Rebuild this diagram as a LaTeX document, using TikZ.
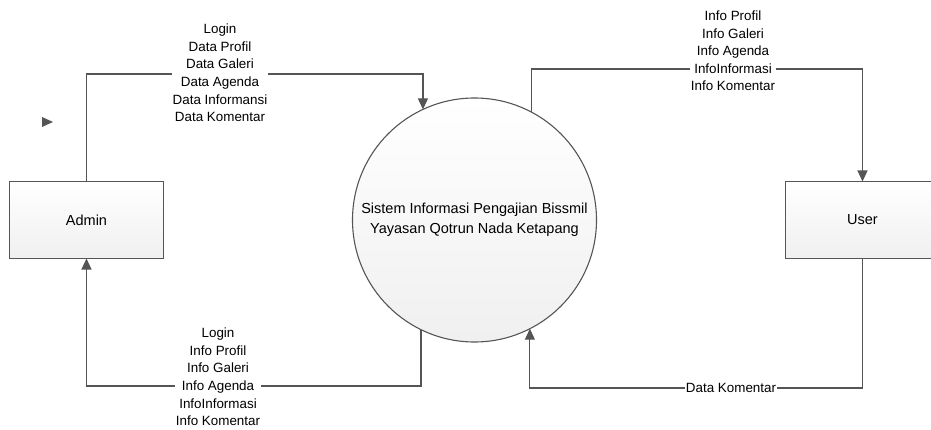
\documentclass[tikz,border=0pt]{standalone}
\usepackage{fontspec}
\setmainfont{Liberation Sans}
\usetikzlibrary{positioning, arrows.meta}
\definecolor{linegray}{HTML}{555555}

\begin{document}
\begin{tikzpicture}[x=1pt, y=1pt,
    >={Triangle[length=11pt, width=10pt]},
    flow/.style={draw=linegray, line width=1.1pt},
    entity/.style={draw=linegray, line width=1.1pt, rectangle, top color=white, bottom color=gray!12, minimum width=154pt, minimum height=77pt, outer sep=0pt, font=\fontsize{14.5}{18}\selectfont},
    proc/.style={draw=linegray, line width=1.1pt, circle, top color=white, bottom color=gray!12, minimum size=244pt, inner sep=0pt, outer sep=0pt, align=center, font=\fontsize{14.5}{20}\selectfont},
    lbl/.style={fill=white, align=center, inner sep=1pt, font=\fontsize{13.4}{17.6}\selectfont}]
    \useasboundingbox (0, 0) rectangle (931, 429);

    \node (sistem) [proc] at (474.5, 209) {Sistem Informasi Pengajian Bissmil\\Yayasan Qotrun Nada Ketapang};
    \node (admin) [entity, left=189pt of sistem] {Admin};
    \node (user) [entity, right=189pt of sistem] {User};

    \draw [flow, ->] (admin.north) -- ++(0, 107.5) -| (sistem.115);
    \draw [flow, ->] (sistem.62) -- ++(0, 43.3) -| (user.north);
    \draw [flow, ->] (user.south) -- ++(0, -129.5) -| (sistem.297);
    \draw [flow, ->] (sistem.244) -- ++(0, -56.3) -| (admin.south);

    \node (dataAdmin) [lbl] at (220, 356) {Login\\Data Profil\\Data Galeri\\Data Agenda\\Data Informansi\\Data Komentar};
    \node (infoUser) [lbl] at (733, 378) {Info Profil\\Info Galeri\\Info Agenda\\InfoInformasi\\Info Komentar};
    \node (infoAdmin) [lbl] at (218, 52) {Login\\Info Profil\\Info Galeri\\Info Agenda\\InfoInformasi\\Info Komentar};
    \node (dataUser) [lbl] at (731, 41) {Data Komentar};

    % loose arrow head
    \fill [linegray] (42, 312) -- (53, 307) -- (42, 302) -- cycle;
\end{tikzpicture}
\end{document}
